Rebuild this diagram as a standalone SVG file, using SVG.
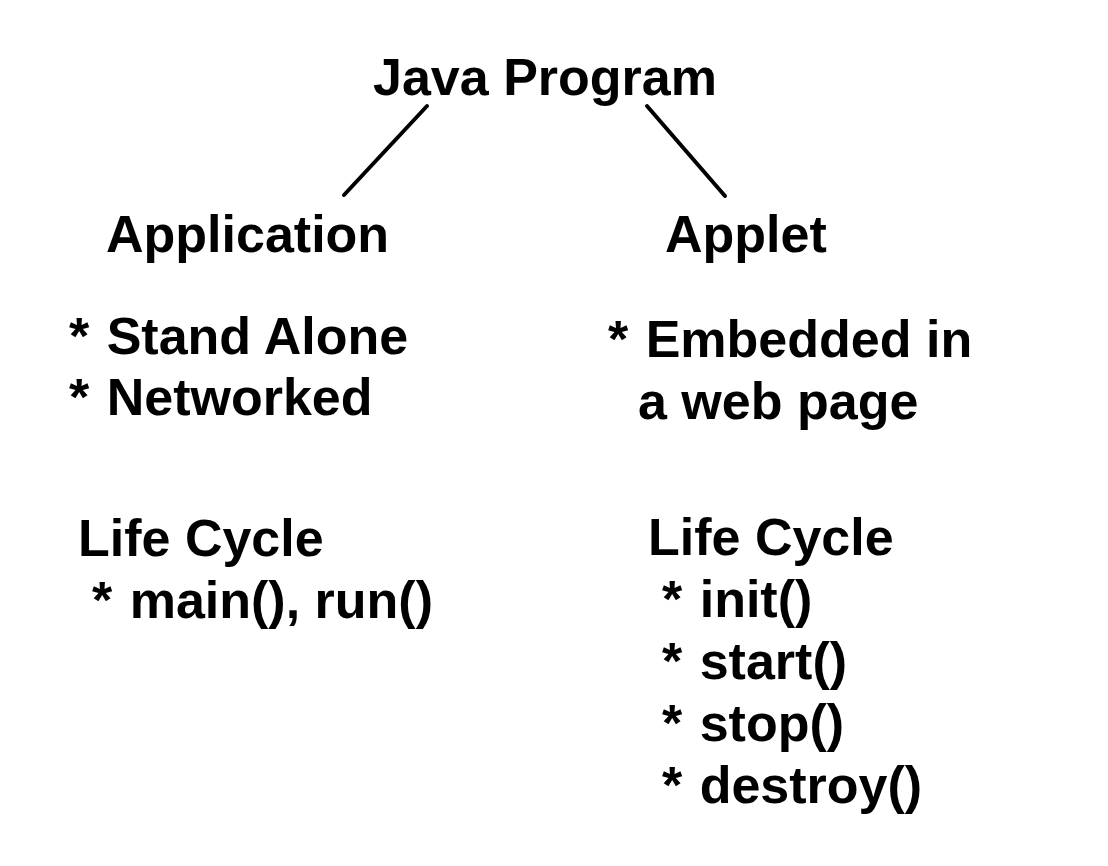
<svg xmlns="http://www.w3.org/2000/svg" width="1108" height="866" viewBox="0 0 1108 866">
<style>
text{font-family:"Liberation Sans",Arial,sans-serif;font-weight:bold;font-size:52px;fill:#000}
.c{stroke:#000;stroke-width:4;stroke-linecap:round;fill:none}
</style>
<rect width="1108" height="866" fill="#fff"/>
<g id="connectors">
<line class="c" x1="427" y1="106" x2="344" y2="195"/>
<line class="c" x1="647" y1="106" x2="725" y2="196"/>
</g>
<g id="java-program"><text x="373" y="95">Java Program</text></g>
<g id="application">
<text x="106" y="252">Application</text>
<text x="69" y="354">* <tspan dx="3">Stand Alone</tspan></text>
<text x="69" y="415">* <tspan dx="3">Networked</tspan></text>
<text x="78" y="556">Life Cycle</text>
<text x="92" y="618">* <tspan dx="3">main(), run()</tspan></text>
</g>
<g id="applet">
<text x="665" y="252">Applet</text>
<text x="608" y="357">* <tspan dx="3">Embedded in</tspan></text>
<text x="638" y="419">a web page</text>
<text x="648" y="555">Life Cycle</text>
<text x="662" y="617">* <tspan dx="3">init()</tspan></text>
<text x="662" y="679">* <tspan dx="3">start()</tspan></text>
<text x="662" y="741">* <tspan dx="3">stop()</tspan></text>
<text x="662" y="803">* <tspan dx="3">destroy()</tspan></text>
</g>
</svg>
